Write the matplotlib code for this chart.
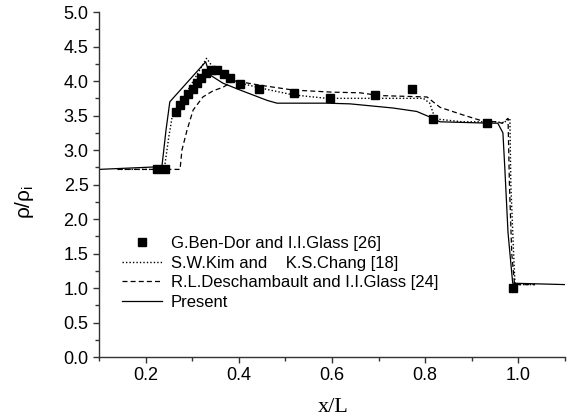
import matplotlib
matplotlib.use("Agg")
import matplotlib.pyplot as plt
from matplotlib.ticker import MultipleLocator

# Experimental data (squares)
exp_x = [0.225, 0.242, 0.265, 0.274, 0.282, 0.291, 0.302, 0.310, 0.319, 0.330,
         0.340, 0.353, 0.368, 0.381, 0.403, 0.443, 0.518, 0.596, 0.692, 0.772,
         0.817, 0.933, 0.988]
exp_y = [2.72, 2.72, 3.55, 3.65, 3.72, 3.81, 3.88, 3.97, 4.04, 4.12,
         4.16, 4.16, 4.10, 4.04, 3.96, 3.88, 3.83, 3.75, 3.80, 3.88,
         3.45, 3.39, 1.00]

# S.W.Kim and K.S.Chang (dotted)
kim_x = [0.14, 0.240, 0.250, 0.257, 0.331, 0.353, 0.403, 0.467, 0.517, 0.589,
         0.700, 0.796, 0.810, 0.817, 0.825, 0.880, 0.954, 0.967, 0.982, 0.984,
         0.990, 0.993, 1.036]
kim_y = [2.72, 2.72, 3.20, 3.48, 4.33, 4.12, 3.97, 3.87, 3.80, 3.75,
         3.75, 3.75, 3.68, 3.54, 3.45, 3.41, 3.41, 3.39, 3.46, 2.50,
         1.50, 1.05, 1.05]

# R.L.Deschambault and I.I.Glass (dashed)
des_x = [0.14, 0.274, 0.278, 0.289, 0.302, 0.323, 0.345, 0.366, 0.388, 0.403,
         0.446, 0.517, 0.600, 0.661, 0.703, 0.804, 0.832, 0.881, 0.924, 0.954,
         0.965, 0.978, 0.981, 0.986, 0.992, 1.036]
des_y = [2.72, 2.72, 3.00, 3.29, 3.58, 3.77, 3.86, 3.91, 4.00, 3.99,
         3.94, 3.87, 3.84, 3.83, 3.79, 3.77, 3.62, 3.51, 3.42, 3.41,
         3.39, 3.46, 2.50, 1.50, 1.05, 1.05]

# Present (solid)
pre_x = [0.10, 0.235, 0.244, 0.252, 0.329, 0.338, 0.366, 0.403, 0.461, 0.482,
         0.589, 0.639, 0.731, 0.782, 0.810, 0.832, 0.939, 0.956, 0.967, 0.971,
         0.978, 0.988, 1.10]
pre_y = [2.72, 2.76, 3.30, 3.70, 4.28, 4.09, 3.97, 3.87, 3.72, 3.68,
         3.68, 3.67, 3.61, 3.56, 3.48, 3.41, 3.39, 3.39, 3.25, 2.75,
         1.80, 1.07, 1.05]

xtick_vals = [0.2, 0.4, 0.6, 0.8, 1.0]
xtick_labels = ["0.2", "0.4", "0.6", "0.8", "1.0"]

plt.rcParams["font.family"] = ["Liberation Sans", "DejaVu Sans"]

fig = plt.figure(figsize=(5.7, 4.18), dpi=100)
ax = fig.add_axes([0.1737, 0.1459, 0.8173, 0.8251])

ax.plot(exp_x, exp_y, linestyle="none", marker="s", markersize=6,
        color="black", label="G.Ben-Dor and I.I.Glass [26]", zorder=4)
ax.plot(kim_x, kim_y, linestyle=(0, (1, 1.5)), linewidth=1.0, color="black",
        label="S.W.Kim and    K.S.Chang [18]")
ax.plot(des_x, des_y, linestyle=(0, (4, 2.5)), linewidth=0.9, color="black",
        label="R.L.Deschambault and I.I.Glass [24]")
ax.plot(pre_x, pre_y, linestyle="-", linewidth=0.9, color="black", label="Present")

ax.set_xlim(0.1, 1.1)
ax.set_ylim(0.0, 5.0)
ax.xaxis.set_minor_locator(MultipleLocator(0.1))
ax.yaxis.set_major_locator(MultipleLocator(0.5))
ax.yaxis.set_minor_locator(MultipleLocator(0.25))
ax.set_xticks(xtick_vals)
ax.set_xticklabels(xtick_labels)

for side in ["top", "right"]:
    ax.spines[side].set_visible(False)
for side in ["left", "bottom"]:
    ax.spines[side].set_color("#333333")
    ax.spines[side].set_linewidth(1.0)

ax.tick_params(which="major", direction="out", length=4.5, width=1.0,
               colors="#333333", labelsize=13, labelcolor="black", pad=3)
ax.tick_params(which="minor", direction="out", length=3, width=1.0, colors="#333333")

ax.set_xlabel("x/L", fontsize=16, family=["Liberation Serif", "DejaVu Serif"])
ax.xaxis.set_label_coords(0.502, -0.118)
ax.set_ylabel(r"$\mathregular{\rho/\rho_i}$", fontsize=15)
ax.yaxis.set_label_coords(-0.135, 0.45)

ax.legend(loc="upper left", bbox_to_anchor=(0.049, 0.35), frameon=False,
          fontsize=12, handlelength=2.4, handletextpad=0.55, labelspacing=0.27,
          borderaxespad=0, borderpad=0)

fig.savefig("out.png", dpi=100, facecolor="white")
